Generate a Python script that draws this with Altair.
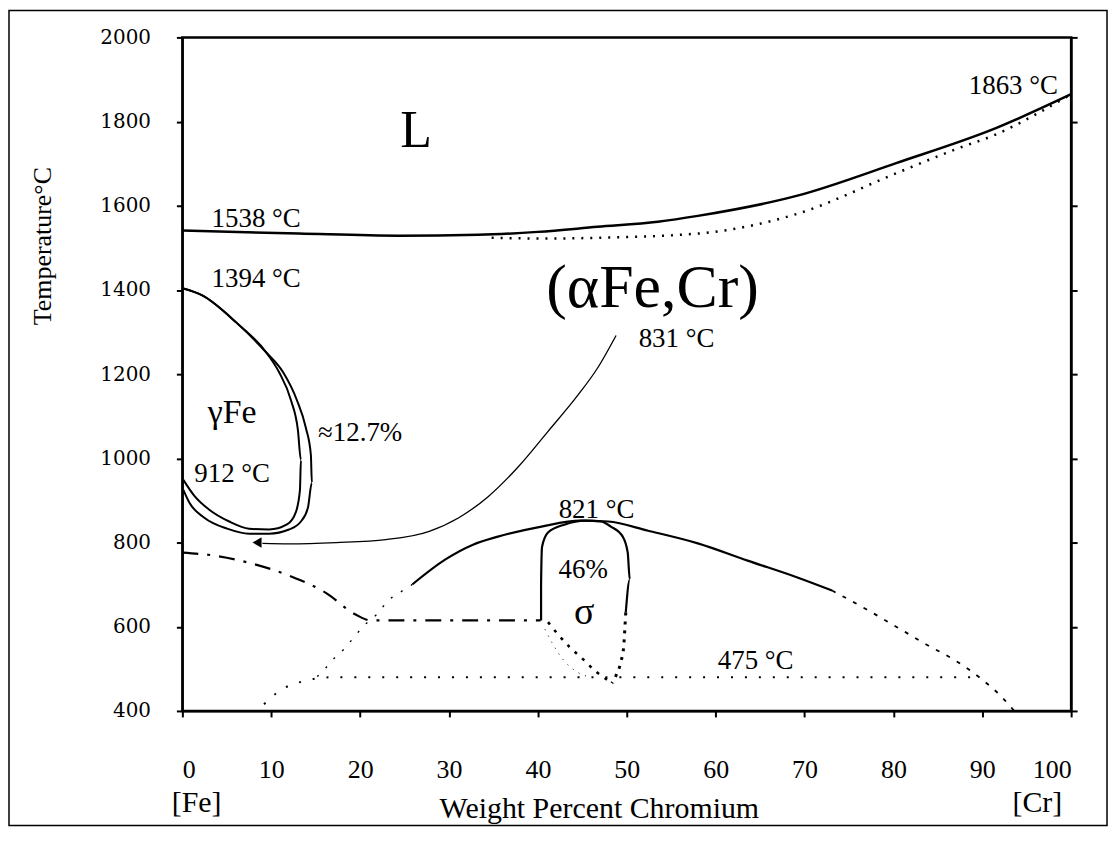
import altair as alt
import pandas as pd

# ---------------- data (wt% Cr, temperature in deg C) ----------------
liq_x = [0, 13.1, 24.3, 33.3, 40.0, 46.7, 53.5, 58.0, 69.2, 80.4, 91.6, 100]
liq_t = [1541, 1534, 1529, 1531, 1538, 1550, 1562, 1576, 1624, 1702, 1785, 1865]

sol_x = [34.8, 41.1, 46.7, 58.0, 69.2, 80.4, 87.1, 91.6, 96.1, 100]
sol_t = [1524, 1522, 1524, 1534, 1581, 1678, 1735, 1770, 1818, 1865]

gin_x = [0, 2.24, 6.05, 9.42, 10.87, 12.22, 13.0, 13.34, 13.23, 12.78, 11.77, 9.75, 7.51, 5.27, 3.03, 1.35, 0.11]
gin_t = [1404, 1387, 1323, 1252, 1205, 1138, 1067, 996, 925, 873, 843, 831, 833, 850, 878, 911, 949]

gout_x = [0, 2.24, 6.05, 9.42, 11.32, 12.89, 13.90, 14.46, 14.57, 14.13, 13.34, 12.0, 9.75, 7.51, 5.04, 2.47, 0.78, 0.11]
gout_t = [1404, 1387, 1323, 1252, 1205, 1138, 1072, 1008, 942, 883, 850, 831, 821, 821, 833, 859, 895, 925]

curie_x = [9.0, 12.0, 17.3, 22.9, 27.7, 31.1, 34.4, 37.8, 41.1, 44.5, 46.7, 48.8]
curie_t = [798, 797, 800, 807, 826, 859, 909, 980, 1063, 1150, 1214, 1292]
arrow_x = [8.4]
arrow_t = [800]

dd_x = [0, 3.6, 7.5, 12.3, 16.1, 19.5, 21.2, 40.3]
dd_t = [776, 769, 752, 719, 681, 629, 615, 615]

sig_x = [40.36, 40.36, 40.47, 41.14, 43.05, 45.29, 47.09, 48.21, 49.55, 50.11, 50.34, 49.89]
sig_t = [615, 700, 790, 824, 843, 852, 850, 838, 814, 776, 712, 634]

sigr_x = [49.89, 49.78, 49.66, 49.33, 48.77, 48.32]
sigr_t = [634, 594, 554, 516, 483, 466]

sigi_x = [41.14, 42.26, 43.61, 45.07, 46.52, 47.87]
sigi_t = [611, 582, 551, 523, 494, 473]

sigf_x = [40.8, 41.7, 42.8, 44.3, 45.9]
sigf_t = [594, 558, 523, 494, 480]

arc_x = [25.9, 29.6, 32.7, 35.5, 40.4, 44.8, 47.9, 52.4, 58.0, 63.6, 69.2, 73.1]
arc_t = [701, 760, 795, 814, 838, 852, 850, 828, 798, 757, 717, 686]

arcd_x = [73.1, 77.0, 80.4, 83.7, 87.1, 89.9, 92.2, 93.6]
arcd_t = [686, 641, 599, 558, 518, 476, 433, 400]

diag_x = [25.9, 24.3, 23.2, 21.9, 20.6, 19.3, 18.2, 17.3, 16.3, 15.1]
diag_t = [701, 679, 663, 630, 606, 575, 547, 530, 506, 480]

l475_x = [9.19, 10.87, 13.68, 16.8, 89.9]
l475_t = [416, 447, 471, 480, 480]

ann_text = ["1538 °C", "1394 °C", "1863 °C", "831 °C", "912 °C", "821 °C", "475 °C", "≈12.7%", "46%"]
ann_x = [8.3, 8.3, 93.5, 55.6, 5.6, 46.6, 64.5, 20.0, 45.1]
ann_t = [1569, 1425, 1884, 1283, 963, 878, 518, 1060, 734]

phase_text = ["L", "(αFe,Cr)", "γFe", "σ"]
phase_x = [26.3, 52.9, 5.6, 45.2]
phase_t = [1778, 1404, 1108, 632]
phase_size = [52, 62, 34, 38]

end_text = ["[Fe]", "[Cr]"]
end_x = [1.6, 96.2]

x_ticks = list(range(0, 101, 10))
y_ticks = list(range(400, 2001, 200))

SERIF = "Liberation Serif"

xs = alt.Scale(domain=[0, 100], nice=False, zero=False)
ys = alt.Scale(domain=[400, 2000], nice=False, zero=False)

x_axis = alt.Axis(values=x_ticks, title="Weight Percent Chromium", grid=False, format="d",
                  labelFont=SERIF, labelFontSize=26, labelColor="black", labelPadding=40,
                  tickColor="black", tickSize=6, tickWidth=2, domainColor="black", domainWidth=2,
                  titleFont=SERIF, titleFontSize=30, titleFontWeight="normal", titleColor="black",
                  titleX=418, titleY=98, titleBaseline="middle", titleAlign="center")
y_axis = alt.Axis(values=y_ticks, title="Temperature°C", grid=False, format="d",
                  labelFont="DejaVu Serif", labelFontSize=20, labelColor="black", labelPadding=26,
                  tickColor="black", tickSize=6, tickWidth=2, domainColor="black", domainWidth=2,
                  titleFont=SERIF, titleFontSize=26, titleFontWeight="normal", titleColor="black",
                  titleX=-140, titleY=209, titleBaseline="middle", titleAlign="center", titleAngle=270)
y_axis_right = alt.Axis(values=y_ticks, title=None, grid=False, labels=False, orient="right",
                        tickColor="black", tickSize=6, tickWidth=2, domainColor="black", domainWidth=2)

X = alt.X("x:Q", scale=xs, axis=x_axis)
Y = alt.Y("t:Q", scale=ys, axis=None)
Y_left = alt.Y("t:Q", scale=ys, axis=y_axis)
Y_right = alt.Y("t:Q", scale=ys, axis=y_axis_right)


def curve(xv, tv, width=2.0, dash=None, y=Y):
    df = pd.DataFrame({"x": xv, "t": tv, "i": list(range(len(xv)))})
    kw = dict(color="black", strokeWidth=width, clip=False, interpolate="monotone")
    if dash:
        kw["strokeDash"] = dash
    return alt.Chart(df).mark_line(**kw).encode(x=X, y=y, order="i:Q")


layers = [
    curve(liq_x, liq_t, 2.5, y=Y_left),
    curve(sol_x, sol_t, 2.5, [2, 7], y=Y_right),
    curve(gin_x, gin_t, 2.0),
    curve(gout_x, gout_t, 2.0),
    curve(curie_x, curie_t, 1.3),
    curve(dd_x, dd_t, 2.2, [16, 9, 3, 9]),
    curve(sig_x, sig_t, 2.2),
    curve(sigr_x, sigr_t, 3.0, [3, 6]),
    curve(sigi_x, sigi_t, 2.6, [3, 7]),
    curve(sigf_x, sigf_t, 1.0, [1, 6]),
    curve(arc_x, arc_t, 2.2),
    curve(arcd_x, arcd_t, 1.8, [4, 8]),
    curve(diag_x, diag_t, 1.4, [2, 10]),
    curve(l475_x, l475_t, 2.0, [2, 12]),
]

arrow = alt.Chart(pd.DataFrame({"x": arrow_x, "t": arrow_t})).mark_point(
    shape="triangle-left", filled=True, size=110, color="black", opacity=1
).encode(x=X, y=Y)

ann = alt.Chart(pd.DataFrame({"x": ann_x, "t": ann_t, "s": ann_text})).mark_text(
    font=SERIF, fontSize=27, color="black", align="center", baseline="middle"
).encode(x=X, y=Y, text="s:N")

phase = alt.Chart(pd.DataFrame({"x": phase_x, "t": phase_t, "s": phase_text, "fs": phase_size})).mark_text(
    font=SERIF, color="black", align="center", baseline="middle"
).encode(x=X, y=Y, text="s:N", size=alt.Size("fs:Q", scale=None, legend=None))

ends = alt.Chart(pd.DataFrame({"x": end_x, "s": end_text})).mark_text(
    font=SERIF, fontSize=30, color="black", align="center", baseline="middle"
).encode(x=X, y=alt.value(768), text="s:N")

border = alt.Chart(pd.DataFrame({"a": [1]})).mark_rect(
    fillOpacity=0, stroke="black", strokeWidth=1.5
).encode(x=alt.value(-174), x2=alt.value(928), y=alt.value(-27), y2=alt.value(791))

chart = alt.layer(*layers, arrow, ann, phase, ends, border).resolve_axis(y="independent").properties(
    width=892, height=676,
    autosize=alt.AutoSizeParams(type="none"),
    padding={"left": 175, "top": 28, "right": 38, "bottom": 118},
    background="white",
).configure_view(stroke="black", strokeWidth=2.5)

chart.save("out.html", embed_options={"renderer": "svg", "actions": False})
